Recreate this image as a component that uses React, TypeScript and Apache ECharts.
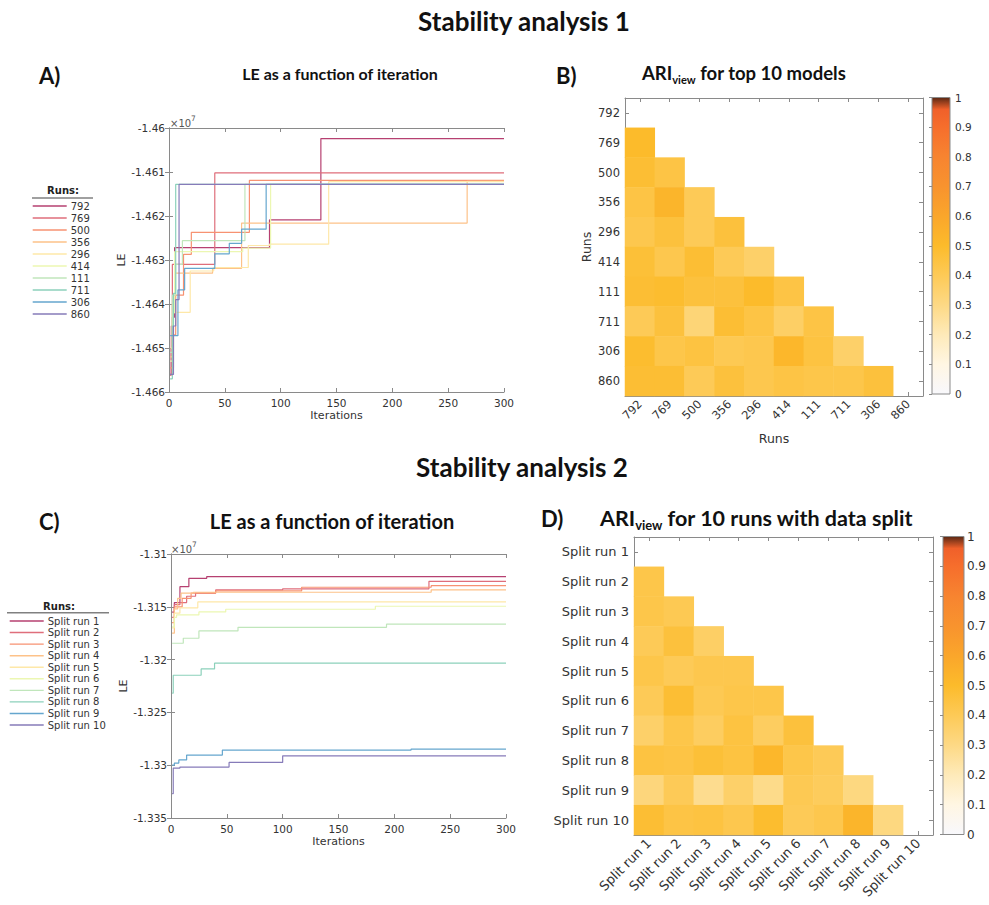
import React, { useEffect, useRef } from 'react';
import * as echarts from 'echarts';

// ---------- DATA ----------
const RUNS_A = ['792', '769', '500', '356', '296', '414', '111', '711', '306', '860'];
const RUNS_C = ['Split run 1', 'Split run 2', 'Split run 3', 'Split run 4', 'Split run 5',
  'Split run 6', 'Split run 7', 'Split run 8', 'Split run 9', 'Split run 10'];
const LINE_COLORS = ['#b64071', '#df6e7b', '#f79272', '#fdc289', '#fee8a8',
  '#ecf7b2', '#c0e6bb', '#8cd1bb', '#65a6ce', '#867bb9'];

// Panel A: [iteration, LE (x10^7)]
const LE_792 = [[1, -1.4656], [2, -1.465], [3, -1.4643], [5, -1.46272], [90, -1.46209], [136, -1.46024], [300, -1.46024]];
const LE_769 = [[1, -1.46562], [2, -1.4645], [3, -1.4631], [41, -1.46102], [300, -1.46102]];
const LE_500 = [[1, -1.46545], [4, -1.4647], [6, -1.4638], [13, -1.46287], [20, -1.46237], [72, -1.46119], [300, -1.46119]];
const LE_356 = [[1, -1.4652], [3, -1.464], [5, -1.4633], [39, -1.46319], [65, -1.46216], [267, -1.46121], [300, -1.46121]];
const LE_296 = [[1, -1.465], [4, -1.46419], [19, -1.46325], [40, -1.46317], [71, -1.46267], [90, -1.46264], [143, -1.46122], [300, -1.46122]];
const LE_414 = [[1, -1.4653], [3, -1.4642], [5, -1.46281], [66, -1.46273], [91, -1.46128], [300, -1.46128]];
const LE_111 = [[1, -1.4651], [3, -1.4638], [6, -1.4631], [12, -1.46256], [68, -1.46128], [300, -1.46128]];
const LE_711 = [[1, -1.4657], [3, -1.4645], [4, -1.46376], [6, -1.46128], [300, -1.46128]];
const LE_306 = [[1, -1.46472], [8, -1.46368], [14, -1.46319], [41, -1.46286], [54, -1.46262], [65, -1.4623], [87, -1.46128], [300, -1.46128]];
const LE_860 = [[1, -1.4656], [4, -1.4645], [6, -1.4639], [9, -1.46128], [300, -1.46128]];
const LE_A = [LE_792, LE_769, LE_500, LE_356, LE_296, LE_414, LE_111, LE_711, LE_306, LE_860];

// Panel C: [iteration, LE (x10^7)]
const LE_S1 = [[1, -1.3155], [3, -1.3146], [8, -1.31309], [16, -1.3123], [32, -1.31214], [300, -1.31214]];
const LE_S2 = [[1, -1.316], [3, -1.3148], [8, -1.3146], [14, -1.314], [22, -1.3137], [40, -1.3134], [100, -1.3133], [231, -1.31259], [300, -1.31259]];
const LE_S3 = [[1, -1.3165], [3, -1.315], [10, -1.3142], [18, -1.3137], [40, -1.3135], [117, -1.31315], [233, -1.313], [300, -1.313]];
const LE_S4 = [[1, -1.3175], [3, -1.3152], [6, -1.3142], [9, -1.3137], [20, -1.31362], [233, -1.3134], [300, -1.3134]];
const LE_S5 = [[1, -1.317], [3, -1.3156], [8, -1.3151], [24, -1.31454], [300, -1.31454]];
const LE_S6 = [[1, -1.3169], [3, -1.316], [5, -1.31577], [25, -1.31549], [49, -1.31523], [183, -1.31495], [300, -1.31495]];
const LE_S7 = [[1, -1.31845], [11, -1.31798], [25, -1.31728], [60, -1.31694], [193, -1.31665], [300, -1.31665]];
const LE_S8 = [[1, -1.32318], [2, -1.32148], [27, -1.32088], [39, -1.32034], [300, -1.32034]];
const LE_S9 = [[1, -1.33], [3, -1.3298], [7, -1.3295], [14, -1.32904], [46, -1.32857], [215, -1.32847], [300, -1.32847]];
const LE_S10 = [[1, -1.3327], [2, -1.33027], [8, -1.33018], [52, -1.32974], [100, -1.32911], [300, -1.32911]];
const LE_C = [LE_S1, LE_S2, LE_S3, LE_S4, LE_S5, LE_S6, LE_S7, LE_S8, LE_S9, LE_S10];

// Panel B: ARI_view lower triangle, row i holds columns 0..i-1
const ARI_B = [
  [],
  [0.50],
  [0.48, 0.44],
  [0.44, 0.53, 0.40],
  [0.42, 0.46, 0.40, 0.46],
  [0.47, 0.42, 0.48, 0.40, 0.36],
  [0.48, 0.49, 0.46, 0.46, 0.50, 0.44],
  [0.40, 0.46, 0.33, 0.48, 0.44, 0.37, 0.44],
  [0.49, 0.43, 0.45, 0.41, 0.42, 0.52, 0.45, 0.36],
  [0.48, 0.48, 0.40, 0.46, 0.42, 0.44, 0.43, 0.43, 0.46],
];

// Panel D
const ARI_D = [
  [],
  [0.43],
  [0.43, 0.41],
  [0.40, 0.46, 0.37],
  [0.43, 0.40, 0.42, 0.42],
  [0.40, 0.48, 0.41, 0.43, 0.43],
  [0.36, 0.43, 0.38, 0.45, 0.38, 0.46],
  [0.45, 0.44, 0.47, 0.45, 0.52, 0.43, 0.40],
  [0.32, 0.40, 0.28, 0.36, 0.29, 0.41, 0.39, 0.31],
  [0.48, 0.44, 0.45, 0.42, 0.49, 0.40, 0.42, 0.53, 0.31],
];

// ---------- STYLE ----------
const AX = '#8a8a8a';
const TXT = '#333333';
const FONT = 'DejaVu Sans';
const TFONT = 'Lato';

const CMAP_STOPS: [number, string][] = [
  [0, '#f8f8fc'], [0.1, '#fff6e3'], [0.2, '#feeab9'], [0.3, '#fdd985'], [0.4, '#fdca57'],
  [0.5, '#fcbb2b'], [0.6, '#faa62b'], [0.7, '#f8932e'], [0.8, '#f78430'], [0.9, '#f66e2c'],
  [0.96, '#f0602a'], [1, '#5a2814'],
];

function hexToRgb(h: string) {
  return [parseInt(h.slice(1, 3), 16), parseInt(h.slice(3, 5), 16), parseInt(h.slice(5, 7), 16)];
}
function colorAt(v: number) {
  for (let i = 0; i < CMAP_STOPS.length - 1; i++) {
    const [a, ca] = CMAP_STOPS[i];
    const [b, cb] = CMAP_STOPS[i + 1];
    if (v >= a && v <= b) {
      const t = (v - a) / (b - a);
      const A = hexToRgb(ca), B = hexToRgb(cb);
      const c = A.map((x, k) => Math.round(x + (B[k] - x) * t));
      return `rgb(${c[0]},${c[1]},${c[2]})`;
    }
  }
  return CMAP_STOPS[CMAP_STOPS.length - 1][1];
}
const CMAP = Array.from({ length: 101 }, (_, i) => colorAt(i / 100));

function triData(rows: number[][]) {
  const out: number[][] = [];
  rows.forEach((r, yi) => r.forEach((v, xi) => out.push([xi, yi, v])));
  return out;
}

const fmt3 = (v: number) => String(Number(v.toFixed(3)));
const fmt1 = (v: number) => String(Number(v.toFixed(1)));

export default function App() {
  const ref = useRef<HTMLDivElement>(null);
  useEffect(() => {
    if (!ref.current) return;
    const chart = echarts.init(ref.current, undefined, { renderer: 'svg' });

    const GA = { left: 169, top: 128, width: 335, height: 264 };
    const GB = { left: 625, top: 98, width: 298, height: 298 };
    const GC = { left: 171, top: 554, width: 335, height: 264 };
    const GD = { left: 634, top: 537, width: 299, height: 298 };
    const CBB = { left: 932, top: 97.5, width: 18, height: 296.5 };
    const CBD = { left: 943, top: 536.5, width: 21, height: 298 };

    const line = { show: true, lineStyle: { color: AX, width: 1 } };
    const tick = { show: true, inside: true, length: 4, lineStyle: { color: AX } };
    const lbl = (size: number, extra: any = {}) => ({ color: TXT, fontFamily: FONT, fontSize: size, ...extra });

    const valX = (gi: number, pos: string, show: boolean) => ({
      type: 'value', gridIndex: gi, position: pos, min: 0, max: 300, interval: 50,
      axisLine: line, axisTick: tick, splitLine: { show: false },
      axisLabel: show ? lbl(10.5, { margin: 5 }) : { show: false },
      name: show ? 'Iterations' : '', nameLocation: 'middle', nameGap: 18,
      nameTextStyle: lbl(11),
    });
    const valY = (gi: number, pos: string, show: boolean, min: number, max: number, itv: number) => ({
      type: 'value', gridIndex: gi, position: pos, min, max, interval: itv,
      axisLine: line, axisTick: tick, splitLine: { show: false },
      axisLabel: show ? lbl(10.5, { margin: 4, formatter: fmt3 }) : { show: false },
      name: show ? 'LE' : '', nameLocation: 'middle', nameGap: 42, nameTextStyle: lbl(11),
    });
    const catX = (gi: number, data: string[], pos: string, show: boolean, size: number, name = '') => ({
      type: 'category', gridIndex: gi, position: pos, data,
      axisLine: line, axisTick: { ...tick, alignWithLabel: true, interval: 0 }, splitLine: { show: false },
      axisLabel: show ? lbl(size, { rotate: 45, margin: 6, interval: 0 }) : { show: false },
      name, nameLocation: 'middle', nameGap: 36, nameTextStyle: lbl(12.5),
    });
    const catY = (gi: number, data: string[], pos: string, show: boolean, size: number, name = '') => ({
      type: 'category', gridIndex: gi, position: pos, data, inverse: true,
      axisLine: line, axisTick: { ...tick, alignWithLabel: true, interval: 0 }, splitLine: { show: false },
      axisLabel: show ? lbl(size, { margin: 5, interval: 0 }) : { show: false },
      name, nameLocation: 'middle', nameGap: 32, nameTextStyle: lbl(12.5),
    });
    const cbY = (gi: number, size: number) => ({
      type: 'value', gridIndex: gi, position: 'right', min: 0, max: 1, interval: 0.1, z: 10,
      axisLine: { show: false }, axisTick: { show: true, inside: true, length: 3, lineStyle: { color: AX } },
      splitLine: { show: false }, axisLabel: lbl(size, { margin: 5, formatter: fmt1 }),
    });
    const hiddenX = (gi: number) => ({ type: 'value', gridIndex: gi, show: false, min: 0, max: 1 });

    const lineSeries = (names: string[], datas: number[][][], xi: number, yi: number) =>
      names.map((name, i) => ({
        type: 'line', name, data: datas[i], step: 'end', xAxisIndex: xi, yAxisIndex: yi,
        symbol: 'none', showSymbol: false, silent: true,
        lineStyle: { width: 1.2, color: LINE_COLORS[i] }, itemStyle: { color: LINE_COLORS[i] },
      }));

    const gradStops = CMAP_STOPS.map(([o, c]) => ({ offset: o, color: c }));
    const cbRect = (g: any) => ({
      type: 'rect', z: 0,
      shape: { x: g.left, y: g.top, width: g.width, height: g.height },
      style: { fill: new echarts.graphic.LinearGradient(0, 1, 0, 0, gradStops), stroke: AX, lineWidth: 1 },
    });

    const title = (text: string, x: number, y: number, size: number, align = 'center') => ({
      type: 'text', x, y, z: 20,
      style: { text, fontFamily: TFONT, fontWeight: 'bold', fontSize: size, fill: '#111', align, verticalAlign: 'middle' },
    });
    const ariTitle = (rest: string, x: number, y: number, size: number) => ({
      type: 'text', x, y, z: 20,
      style: {
        text: `{m|ARI}{s|view}{m|${rest}}`, align: 'left', verticalAlign: 'middle',
        rich: {
          m: { fontFamily: TFONT, fontWeight: 'bold', fontSize: size, fill: '#111', color: '#111', lineHeight: size + 6 },
          s: { fontFamily: TFONT, fontWeight: 'bold', fontSize: size * 0.6, fill: '#111', color: '#111', lineHeight: size * 0.6, verticalAlign: 'bottom' },
        },
      },
    });
    const exp = (x: number, y: number) => ({
      type: 'text', x, y, z: 20,
      style: {
        text: '{a|×10}{s|7}', align: 'left', verticalAlign: 'bottom',
        rich: {
          a: { fontFamily: FONT, fontSize: 10, fill: '#555', color: '#555', lineHeight: 14, verticalAlign: 'bottom' },
          s: { fontFamily: FONT, fontSize: 7.5, fill: '#555', color: '#555', lineHeight: 14, verticalAlign: 'top' },
        },
      },
    });
    const legHeader = (cx: number, y: number, x1: number, x2: number, ly: number) => ([
      { type: 'text', x: cx, y, style: { text: 'Runs:', fontFamily: FONT, fontWeight: 'bold', fontSize: 10, fill: '#222', align: 'center', verticalAlign: 'middle' } },
      { type: 'line', shape: { x1, y1: ly, x2, y2: ly }, style: { stroke: '#808080', lineWidth: 1.5 } },
    ]);

    const legend = (data: string[], left: number, top: number, itemW: number, gap: number) => ({
      data, orient: 'vertical', left, top, itemWidth: itemW, itemHeight: 12, itemGap: gap,
      padding: 0, selectedMode: false,
      itemStyle: { opacity: 0, borderWidth: 0 },
      lineStyle: { width: 1.4 },
      textStyle: { color: TXT, fontFamily: FONT, fontSize: 10, padding: [0, 0, 0, -1] },
    });

    const option: any = {
      animation: false,
      backgroundColor: '#ffffff',
      grid: [
        { ...GA }, { ...GB }, { ...GC }, { ...GD }, { ...CBB }, { ...CBD },
      ],
      xAxis: [
        valX(0, 'bottom', true), valX(0, 'top', false),
        catX(1, RUNS_A, 'bottom', true, 11.5, 'Runs'), catX(1, RUNS_A, 'top', false, 11.5),
        valX(2, 'bottom', true), valX(2, 'top', false),
        catX(3, RUNS_C, 'bottom', true, 13), catX(3, RUNS_C, 'top', false, 13),
        hiddenX(4), hiddenX(5),
      ],
      yAxis: [
        valY(0, 'left', true, -1.466, -1.46, 0.001), valY(0, 'right', false, -1.466, -1.46, 0.001),
        catY(1, RUNS_A, 'left', true, 11.5, 'Runs'), catY(1, RUNS_A, 'right', false, 11.5),
        valY(2, 'left', true, -1.335, -1.31, 0.005), valY(2, 'right', false, -1.335, -1.31, 0.005),
        catY(3, RUNS_C, 'left', true, 13), catY(3, RUNS_C, 'right', false, 13),
        cbY(4, 10.5), cbY(5, 12),
      ],
      legend: [legend(RUNS_A, 32, 201, 34, 2), legend(RUNS_C, 9, 616, 34, 1.56)],
      visualMap: [{ type: 'continuous', min: 0, max: 1, show: false, seriesIndex: [20, 21], inRange: { color: CMAP } }],
      series: [
        ...lineSeries(RUNS_A, LE_A, 0, 0),
        ...lineSeries(RUNS_C, LE_C, 4, 4),
        { type: 'heatmap', xAxisIndex: 2, yAxisIndex: 2, data: triData(ARI_B), silent: true, itemStyle: { borderWidth: 0 }, emphasis: { disabled: true } },
        { type: 'heatmap', xAxisIndex: 6, yAxisIndex: 6, data: triData(ARI_D), silent: true, itemStyle: { borderWidth: 0 }, emphasis: { disabled: true } },
      ],
      graphic: [
        cbRect(CBB), cbRect(CBD),
        title('Stability analysis 1', 524, 21, 26),
        title('Stability analysis 2', 522, 467, 26),
        title('A)', 39, 75, 22, 'left'),
        title('B)', 556, 75, 22, 'left'),
        title('C)', 39, 521, 22, 'left'),
        title('D)', 541, 518, 22, 'left'),
        title('LE as a function of iteration', 340, 73, 16),
        title('LE as a function of iteration', 332, 521, 20),
        ariTitle(' for top 10 models', 642, 73, 18.5),
        ariTitle(' for 10 runs with data split', 600, 518, 21.5),
        exp(170, 128), exp(171, 554),
        ...legHeader(63, 190, 32, 93, 198),
        ...legHeader(59, 606, 7, 109, 612.7),
      ],
    };
    chart.setOption(option);
    return () => chart.dispose();
  }, []);
  return (
    <div style={{ position: 'fixed', left: 0, top: 0, width: 989, height: 905, background: '#fff' }}>
      <div ref={ref} style={{ width: 989, height: 905 }} />
    </div>
  );
}
